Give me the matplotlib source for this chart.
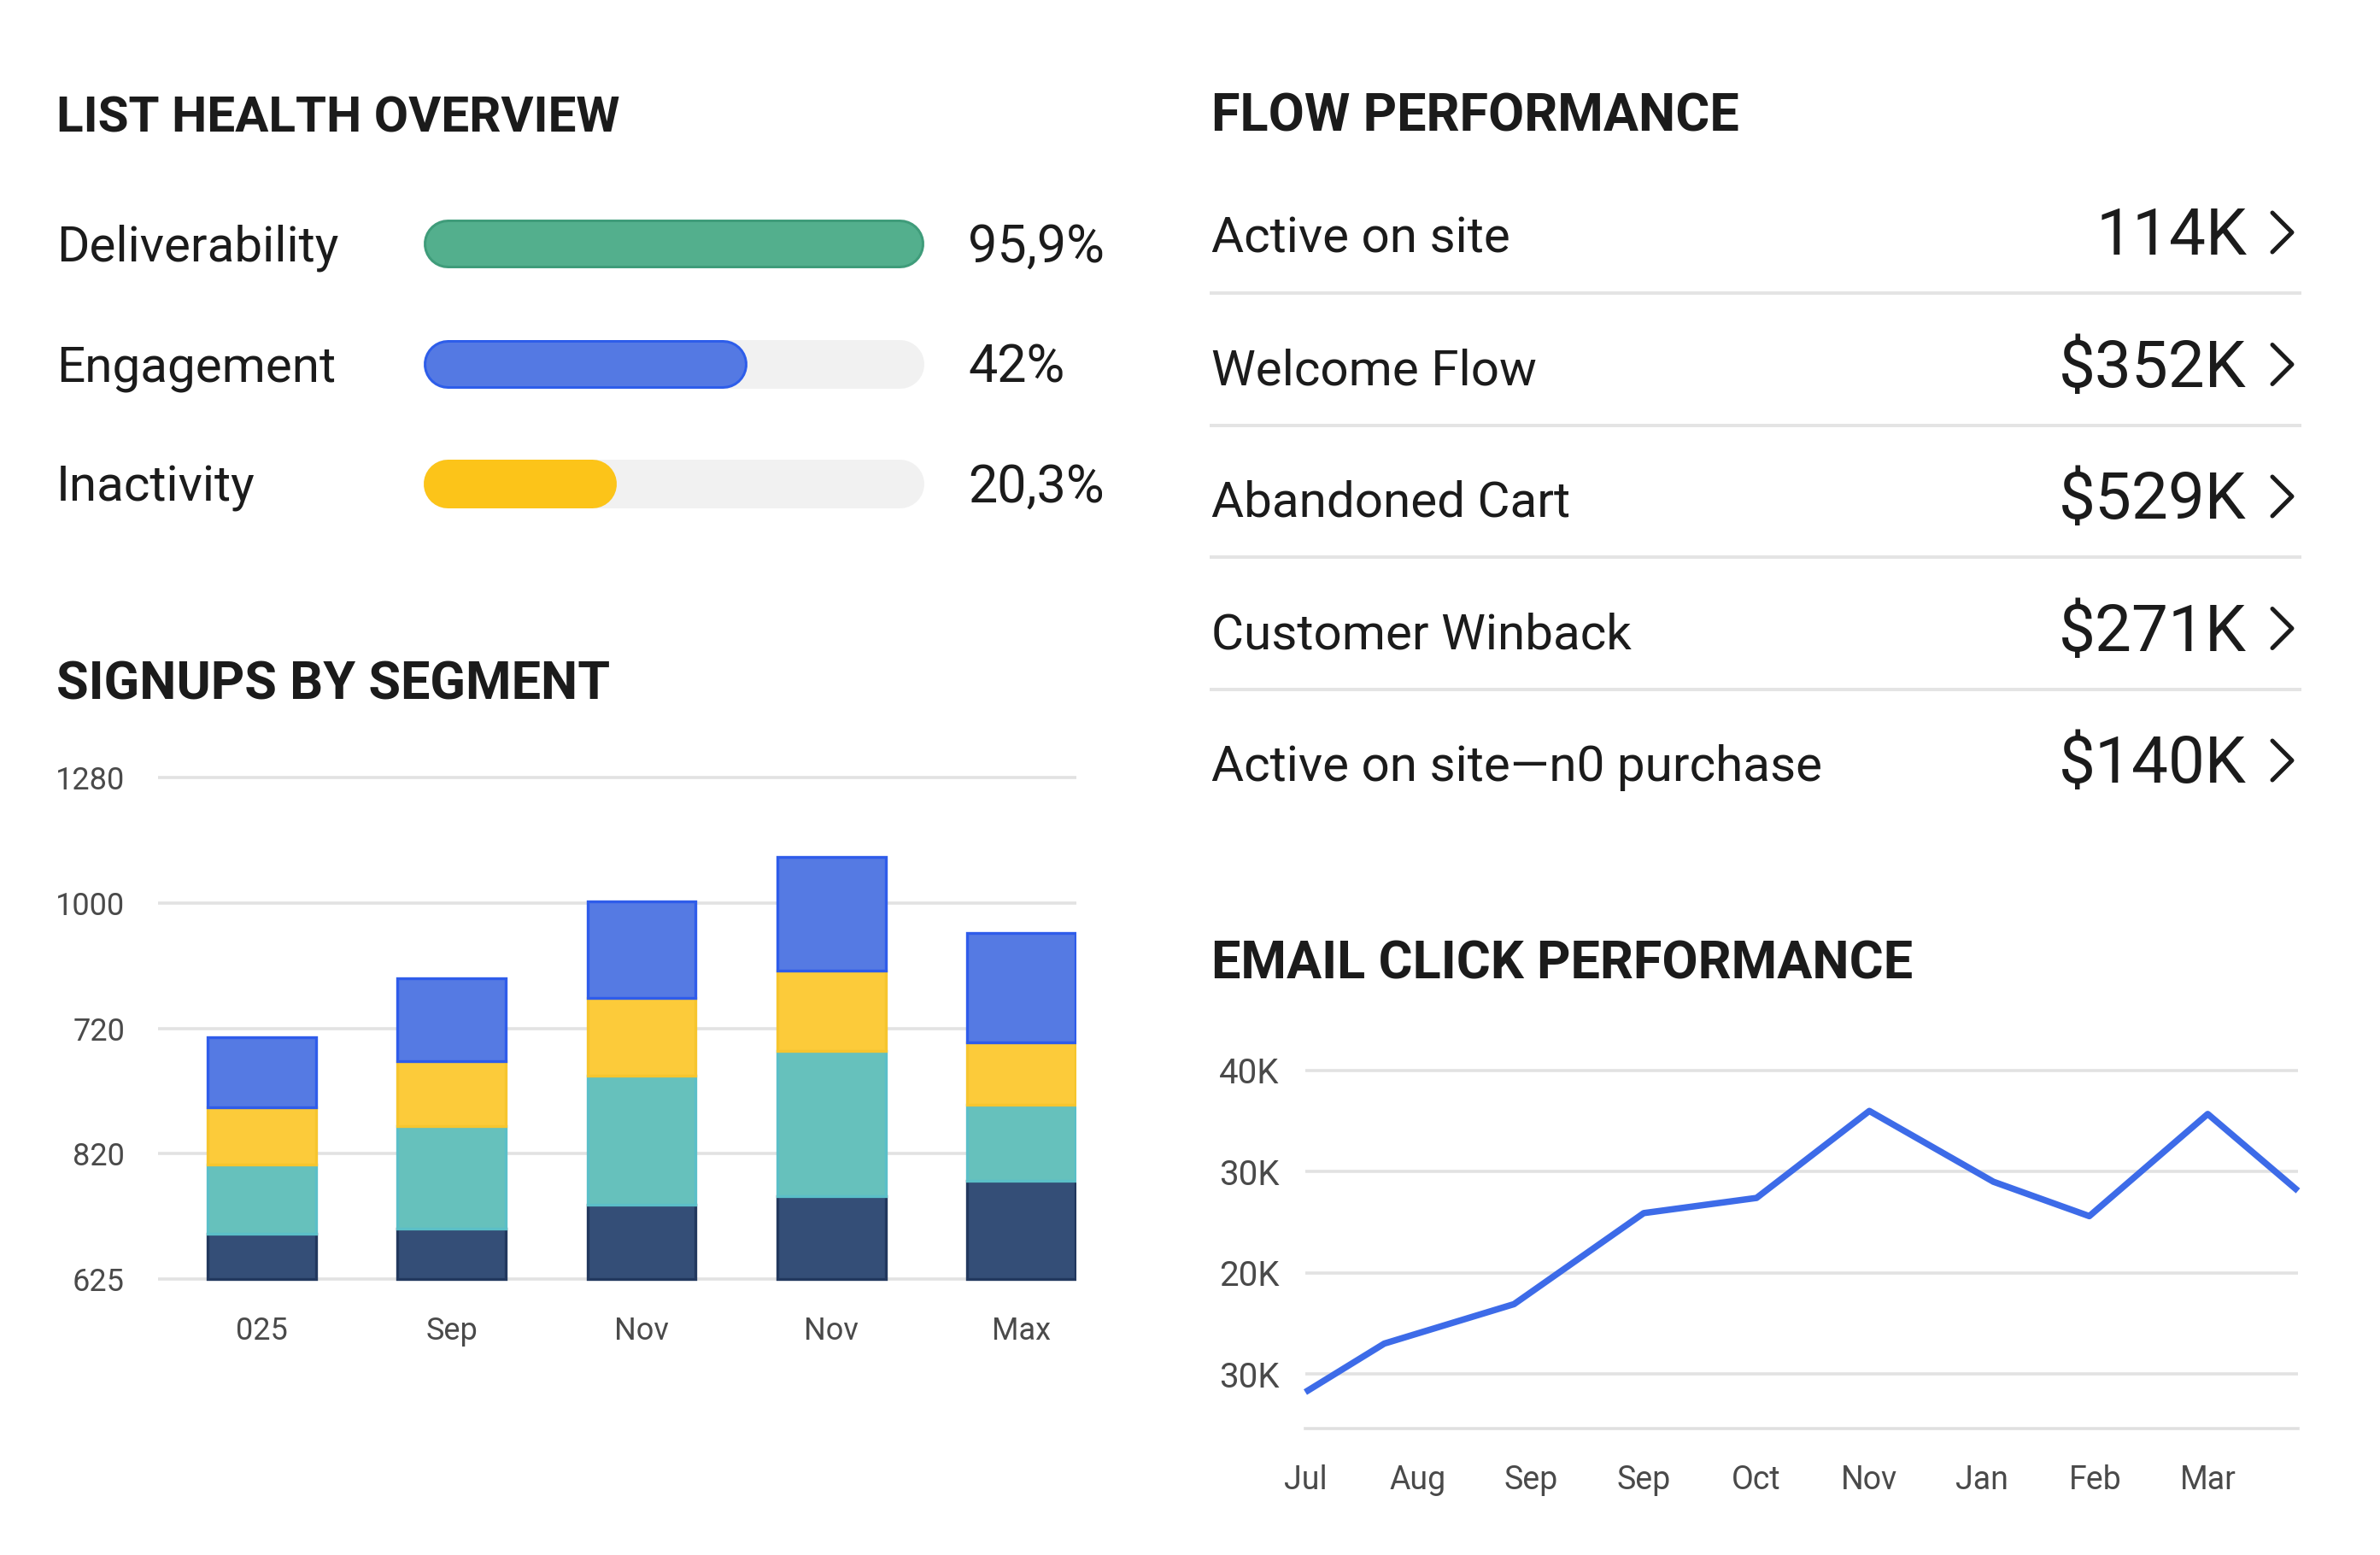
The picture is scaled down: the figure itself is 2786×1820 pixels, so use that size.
import numpy as np
import matplotlib.pyplot as plt

plt.rcParams['font.family'] = ['Roboto', 'DejaVu Sans']

W, H, DPI = 2786, 1820, 200

# list health overview
health_labels = ['Deliverability', 'Engagement', 'Inactivity']
health_pct = ['95,9%', '42%', '20,3%']
health_fill = [1.0, 0.61, 0.32]          # drawn bar length as it appears
health_colors = ['#53AF8D', '#5479E3', '#FCC419']
health_edges = ['#3F9C7A', '#2D5DEA', None]

# flow performance
flow_names = ['Active on site', 'Welcome Flow', 'Abandoned Cart',
              'Customer Winback', 'Active on site\u2014n0 purchase']
flow_values = ['114K', '$352K', '$529K', '$271K', '$140K']

# signups by segment (heights in grid steps; tick labels as printed)
bar_months = ['025', 'Sep', 'Nov', 'Nov', 'Max']
seg_navy = [0.36, 0.40, 0.59, 0.66, 0.78]
seg_teal = [0.55, 0.82, 1.03, 1.16, 0.61]
seg_yellow = [0.46, 0.52, 0.62, 0.64, 0.50]
seg_blue = [0.56, 0.66, 0.77, 0.91, 0.87]
bar_tick_labels = ['625', '820', '720', '1000', '1280']

# email click performance (thousands)
click_months = ['Jul', 'Aug', 'Sep', 'Sep', 'Oct', 'Nov', 'Jan', 'Feb', 'Mar']
click_x = [0, 0.7, 1.85, 3.0, 4.0, 5.0, 6.1, 6.95, 8.0, 8.8]
click_y = [8.2, 13.0, 16.9, 25.9, 27.4, 36.0, 29.0, 25.6, 35.7, 28.1]
click_ticks = [10, 20, 30, 40]
click_tick_labels = ['30K', '20K', '30K', '40K']

INK = '#1B1B1B'
TICK = '#4A4A4A'
GRID = '#E2E2E2'


def rect(x0, y0, x1, y1):
    return [x0 / W, 1 - y1 / H, (x1 - x0) / W, (y1 - y0) / H]


def pt(px):
    return px * 72 / DPI


def cap_half(size):
    # half the cap height in pixels, to centre capitals on a row
    return size * DPI / 72 * 0.711 / 2


fig = plt.figure(figsize=(W / DPI, H / DPI), dpi=DPI)

# overlay in pixel coordinates for the text panels
ov = fig.add_axes([0, 0, 1, 1])
ov.set_xlim(0, W)
ov.set_ylim(H, 0)
ov.axis('off')

TS = 22
title_kw = dict(fontweight='bold', color=INK, va='baseline', ha='left')
ov.text(66, 134 + cap_half(21), 'LIST HEALTH OVERVIEW', fontsize=21, **title_kw)
ov.text(66, 797 + cap_half(TS), 'SIGNUPS BY SEGMENT', fontsize=TS, **title_kw)
ov.text(1418, 132 + cap_half(TS), 'FLOW PERFORMANCE', fontsize=TS, **title_kw)
ov.text(1418, 1124 + cap_half(TS), 'EMAIL CLICK PERFORMANCE', fontsize=TS, **title_kw)

# --- list health rows ---
row0, step = 285, 140.5
LS, PS = 21, 22
for i, (lab, pct) in enumerate(zip(health_labels, health_pct)):
    y = row0 + i * step
    ov.text(66, y + cap_half(LS), lab, fontsize=LS, color=INK, va='baseline', ha='left')
    ov.text(1133, y + cap_half(PS), pct, fontsize=PS, color=INK, va='baseline', ha='left')

pb = fig.add_axes(rect(528.5 - 5, row0 - step / 2, 1057.5 - 5, row0 + 2.5 * step))
pb.set_xlim(0, 1)
pb.set_ylim(2.5, -0.5)
pb.axis('off')
for i, (f, c, e) in enumerate(zip(health_fill, health_colors, health_edges)):
    pb.plot([0, 1], [i, i], lw=pt(57), color='#F1F1F1',
            solid_capstyle='round', clip_on=False)
    if e is not None:
        pb.plot([0, f], [i, i], lw=pt(57), color=e,
                solid_capstyle='round', clip_on=False)
        pb.plot([0, f], [i, i], lw=pt(51), color=c,
                solid_capstyle='round', clip_on=False)
    else:
        pb.plot([0, f], [i, i], lw=pt(57), color=c,
                solid_capstyle='round', clip_on=False)

# --- flow performance rows ---
frow0, fstep = 275, 154.5
VS = 27.5
for i, (name, val) in enumerate(zip(flow_names, flow_values)):
    y = frow0 + i * fstep
    ov.text(1418, y + cap_half(LS), name, fontsize=LS, color=INK, va='baseline', ha='left')
    ov.text(2630, y - 4 + cap_half(VS), val, fontsize=VS, color=INK, va='baseline', ha='right')
    ov.plot([2660, 2683, 2660], [y - 26, y - 3, y + 20], color=INK,
            lw=pt(5), solid_joinstyle='round', solid_capstyle='round')
    if i < len(flow_names) - 1:
        ov.plot([1418, 2692], [y + 68, y + 68], color='#E4E4E4', lw=pt(4))

# --- signups by segment ---
ax = fig.add_axes(rect(185, 903, 1260, 1504))
x = np.arange(len(bar_months))
bottom = np.zeros(len(x))
for vals, col, edge in [(seg_navy, '#344E77', '#22385E'),
                        (seg_teal, '#66C1BC', '#5BBFC8'),
                        (seg_yellow, '#FCCB3A', '#F6C52E'),
                        (seg_blue, '#557AE3', '#2F5CEA')]:
    ax.bar(x, vals, 0.57, bottom=bottom, color=col, edgecolor=edge, linewidth=1.2)
    bottom += np.array(vals)
ax.set_xlim(-0.547, 4.29)
ax.set_ylim(-0.05, 4.05)
ax.set_yticks(range(len(bar_tick_labels)))
ax.set_yticklabels(bar_tick_labels)
ax.set_xticks(x)
ax.set_xticklabels(bar_months)
ax.yaxis.grid(True, color=GRID, lw=1.3)
ax.set_axisbelow(True)
for s in ax.spines.values():
    s.set_visible(False)
ax.tick_params(axis='both', length=0, labelsize=13, colors=TICK)
ax.tick_params(axis='x', pad=13)
ax.tick_params(axis='y', pad=14)

# --- email click performance ---
lx = fig.add_axes(rect(1528, 1247, 2690, 1672))
lx.plot(click_x, click_y, color='#3D6BE8', lw=pt(7.5), clip_on=False,
        solid_joinstyle='round', solid_capstyle='butt')
lx.set_xlim(0, 8.8)
lx.set_ylim(4.6, 40.5)
lx.set_yticks(click_ticks)
lx.set_yticklabels(click_tick_labels)
lx.set_xticks(range(len(click_months)))
lx.set_xticklabels(click_months)
lx.yaxis.grid(True, color=GRID, lw=1.3)
lx.set_axisbelow(True)
for s in ['top', 'right', 'left']:
    lx.spines[s].set_visible(False)
lx.spines['bottom'].set_color('#E0E0E0')
lx.spines['bottom'].set_linewidth(1.3)
lx.tick_params(axis='both', length=0, colors=TICK)
lx.tick_params(axis='x', pad=15, labelsize=13.5)
lx.tick_params(axis='y', pad=11, labelsize=14.5)

fig.savefig('out.png', dpi=DPI, facecolor='white')
